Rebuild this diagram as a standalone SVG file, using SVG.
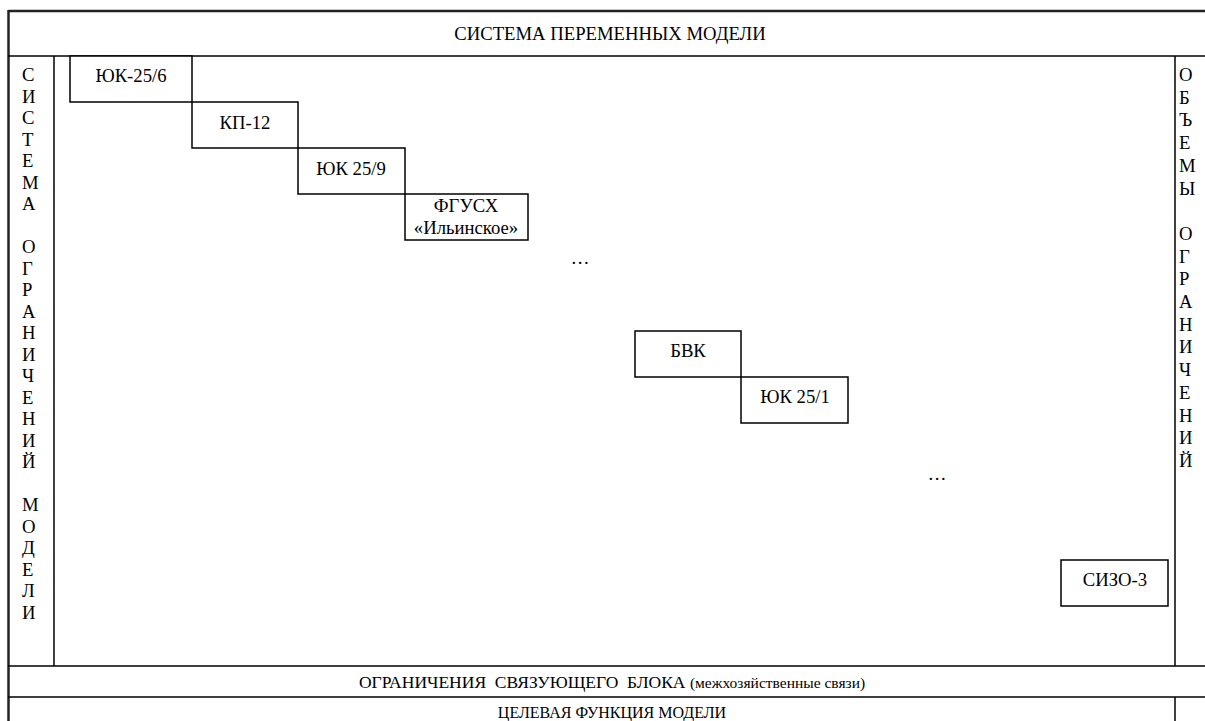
<svg xmlns="http://www.w3.org/2000/svg" width="1205" height="721" viewBox="0 0 1205 721" font-family="'Liberation Serif', 'Times New Roman', 'DejaVu Serif', serif">
<style>
.frame{stroke:#222;stroke-width:2.5;fill:none}
.line{stroke:#000;stroke-width:1.5;fill:none}
.box{stroke:#000;stroke-width:1.5;fill:#fff}
text{font-family:'Liberation Serif','Times New Roman','DejaVu Serif',serif;fill:#000}
.lbl{font-size:18.7px;text-anchor:middle}
.col{font-size:18.7px}
.small{font-size:16px;text-anchor:middle}
</style>
<rect width="1205" height="721" fill="#fff"/>
<g id="frame">
<line class="frame" x1="8.5" y1="11" x2="1205" y2="11"/>
<line class="frame" x1="8.5" y1="10" x2="8.5" y2="721"/>
<line class="line" x1="8" y1="56" x2="1205" y2="56"/>
<line class="line" x1="54" y1="56" x2="54" y2="666"/>
<line class="line" x1="1175" y1="56" x2="1175" y2="666"/>
<line class="line" x1="1175" y1="697" x2="1175" y2="721"/>
<line class="line" x1="8" y1="666" x2="1205" y2="666"/>
<line class="line" x1="8" y1="697" x2="1205" y2="697"/>
</g>
<g id="header"><text class="lbl" x="610" y="40">СИСТЕМА ПЕРЕМЕННЫХ МОДЕЛИ</text></g>
<g id="left-col"><text class="col" x="22" y="81"><tspan x="22">С</tspan><tspan x="22" dy="21.5">И</tspan><tspan x="22" dy="21.5">С</tspan><tspan x="22" dy="21.5">Т</tspan><tspan x="22" dy="21.5">Е</tspan><tspan x="22" dy="21.5">М</tspan><tspan x="22" dy="21.5">А</tspan><tspan x="22" dy="43">О</tspan><tspan x="22" dy="21.5">Г</tspan><tspan x="22" dy="21.5">Р</tspan><tspan x="22" dy="21.5">А</tspan><tspan x="22" dy="21.5">Н</tspan><tspan x="22" dy="21.5">И</tspan><tspan x="22" dy="21.5">Ч</tspan><tspan x="22" dy="21.5">Е</tspan><tspan x="22" dy="21.5">Н</tspan><tspan x="22" dy="21.5">И</tspan><tspan x="22" dy="21.5">Й</tspan><tspan x="22" dy="43">М</tspan><tspan x="22" dy="21.5">О</tspan><tspan x="22" dy="21.5">Д</tspan><tspan x="22" dy="21.5">Е</tspan><tspan x="22" dy="21.5">Л</tspan><tspan x="22" dy="21.5">И</tspan></text></g>
<g id="right-col"><text class="col" x="1179" y="81"><tspan x="1179">О</tspan><tspan x="1179" dy="22.7">Б</tspan><tspan x="1179" dy="22.7">Ъ</tspan><tspan x="1179" dy="22.7">Е</tspan><tspan x="1179" dy="22.7">М</tspan><tspan x="1179" dy="22.7">Ы</tspan><tspan x="1179" dy="45.4">О</tspan><tspan x="1179" dy="22.7">Г</tspan><tspan x="1179" dy="22.7">Р</tspan><tspan x="1179" dy="22.7">А</tspan><tspan x="1179" dy="22.7">Н</tspan><tspan x="1179" dy="22.7">И</tspan><tspan x="1179" dy="22.7">Ч</tspan><tspan x="1179" dy="22.7">Е</tspan><tspan x="1179" dy="22.7">Н</tspan><tspan x="1179" dy="22.7">И</tspan><tspan x="1179" dy="22.7">Й</tspan></text></g>
<g id="n1"><rect class="box" x="70" y="56" width="122" height="46"/><text class="lbl" x="131" y="82">ЮК-25/6</text></g>
<g id="n2"><rect class="box" x="192" y="102" width="106" height="46"/><text class="lbl" x="245" y="129">КП-12</text></g>
<g id="n3"><rect class="box" x="298" y="148" width="107" height="46"/><text class="lbl" x="351" y="175">ЮК 25/9</text></g>
<g id="n4"><rect class="box" x="405" y="194" width="123" height="46"/><text class="lbl" x="466" y="212">ФГУСХ</text><text class="lbl" x="466" y="234">«Ильинское»</text></g>
<g id="dots1"><text class="lbl" x="580" y="264">…</text></g>
<g id="n5"><rect class="box" x="635" y="331" width="106" height="46"/><text class="lbl" x="688" y="357">БВК</text></g>
<g id="n6"><rect class="box" x="741" y="377" width="107" height="46"/><text class="lbl" x="795" y="403">ЮК 25/1</text></g>
<g id="dots2"><text class="lbl" x="937" y="480">…</text></g>
<g id="n7"><rect class="box" x="1061" y="560" width="107" height="46"/><text class="lbl" x="1115" y="586">СИЗО-3</text></g>
<g id="connectors"></g>
<g id="footer">
<text class="small" x="612" y="688" font-size="17.5px" style="font-size:17.5px;white-space:pre" xml:space="preserve">ОГРАНИЧЕНИЯ  СВЯЗУЮЩЕГО  БЛОКА <tspan style="font-size:15.5px">(межхозяйственные связи)</tspan></text>
<text class="small" x="612" y="718">ЦЕЛЕВАЯ ФУНКЦИЯ МОДЕЛИ</text>
</g>
</svg>
